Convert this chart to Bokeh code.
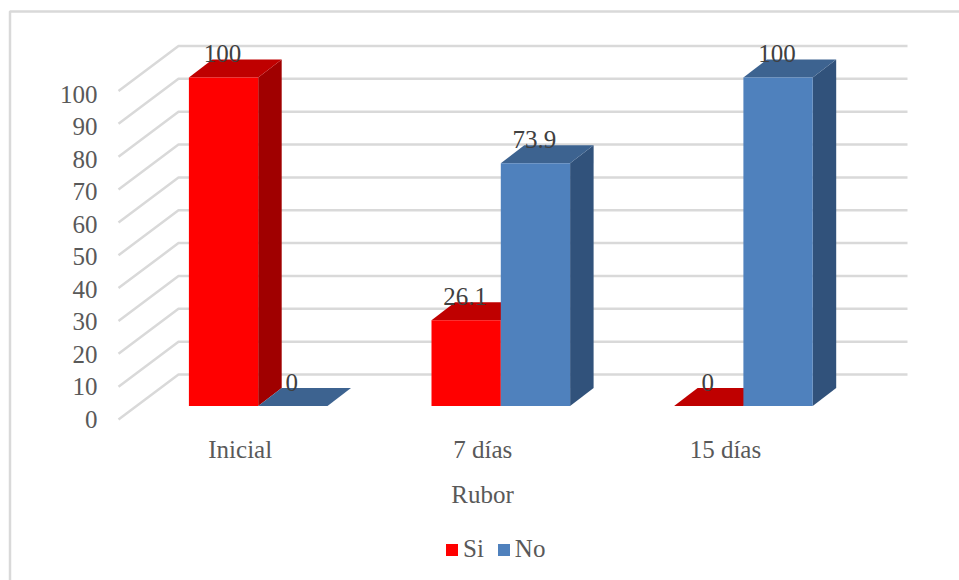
from bokeh.embed import file_html
from bokeh.resources import INLINE
from bokeh.plotting import figure
from bokeh.models import (ColumnDataSource, Range1d, LinearAxis, FixedTicker, Legend,
                          LegendItem)
from bokeh.core.properties import value

# Data
categories = ["Inicial", "7 días", "15 días"]
si_values = [100, 26.1, 0]
no_values = [0, 73.9, 100]
value_ticks = [0, 10, 20, 30, 40, 50, 60, 70, 80, 90, 100]
x_title = "Rubor"

# Colours
RED, RED_TOP, RED_SIDE = "#FF0000", "#BF0000", "#A00000"
BLUE, BLUE_TOP, BLUE_SIDE = "#4F81BD", "#3D6390", "#31527B"
GRID = "#D9D9D9"
TEXT = "#595959"
LABEL = "#404040"
FONT = "Liberation Serif"
FS = "25px"

# The plot frame fills the page; these map page pixels to data units
W, H = 959, 580
PX_PER_UNIT = 3.285       # pixels per percentage point
PX_PER_CAT = 242.6        # pixels between category centres
ZERO_ROW = 405.5          # page row of value 0 on the front of the bars
ZERO_COL = 257.7          # page column of the first category centre


def col(px):
    return (px - ZERO_COL) / PX_PER_CAT


def row(px):
    return (ZERO_ROW - px) / PX_PER_UNIT


# Oblique projection: depth shifts in data units
BAR_W = 69.3 / PX_PER_CAT
BAR_DX, BAR_DY = 23.5 / PX_PER_CAT, 18 / PX_PER_UNIT
WALL_FRONT_X, WALL_BACK_X, WALL_RIGHT_X = col(118), col(178), col(907)
WALL_FRONT_DY = -13.5 / PX_PER_UNIT
WALL_BACK_DY = 31.5 / PX_PER_UNIT

p = figure(width=W, height=H, output_backend="svg", toolbar_location=None,
           frame_width=W, frame_height=H,
           x_range=Range1d(col(0), col(W)), y_range=Range1d(row(H), row(0)),
           min_border=0, x_axis_location=None, y_axis_location=None)
p.grid.visible = False
p.outline_line_color = None
p.background_fill_color = "white"
p.border_fill_color = "white"

# Light rule along the chart's top and left edges
p.line([col(9.5), col(9.5), col(W + 5)], [row(H + 5), row(11), row(11)],
       line_color=GRID, line_width=2.5)

# Floor edges and back wall gridlines
for v in value_ticks:
    p.line([WALL_FRONT_X, WALL_BACK_X, WALL_RIGHT_X],
           [v + WALL_FRONT_DY, v + WALL_BACK_DY, v + WALL_BACK_DY],
           line_color=GRID, line_width=2.5)


def draw_bar(xc, v, front, top, side):
    """Draw one bar as three projected faces; returns the front face renderer."""
    xl, xr = xc, xc + BAR_W
    p.patch([xr, xr + BAR_DX, xr + BAR_DX, xr],
            [0, BAR_DY, v + BAR_DY, v], fill_color=side, line_color=None)
    p.patch([xl, xr, xr + BAR_DX, xl + BAR_DX],
            [v, v, v + BAR_DY, v + BAR_DY], fill_color=top, line_color=None)
    return p.patch([xl, xr, xr, xl], [0, 0, v, v], fill_color=front, line_color=None)


si_items, no_items = [], []
for i, (s, n) in enumerate(zip(si_values, no_values)):
    si_items.append(draw_bar(i - BAR_W, s, RED, RED_TOP, RED_SIDE))
    no_items.append(draw_bar(i, n, BLUE, BLUE_TOP, BLUE_SIDE))

# Value labels above each bar
label_src = ColumnDataSource(dict(
    x=[i - BAR_W / 2 for i in range(3)] + [i + BAR_W / 2 for i in range(3)],
    y=si_values + no_values,
    t=[f"{v:g}" for v in si_values + no_values],
))
p.text("x", "y", text="t", source=label_src, x_offset=-1, y_offset=-24,
       text_align="center", text_baseline="middle", text_color=LABEL,
       text_font=value(FONT), text_font_size=FS)

# Value axis, on its own scale along the front edge of the floor
FRONT_PX_PER_UNIT = 3.25
FRONT_ZERO_ROW = 418.5
p.extra_y_ranges["front"] = Range1d((FRONT_ZERO_ROW - H) / FRONT_PX_PER_UNIT,
                                    FRONT_ZERO_ROW / FRONT_PX_PER_UNIT)
y_axis = LinearAxis(y_range_name="front", ticker=FixedTicker(ticks=value_ticks),
                    fixed_location=col(109),
                    axis_line_color=None, major_tick_line_color=None,
                    minor_tick_line_color=None, major_label_standoff=6,
                    major_label_text_color=TEXT, major_label_text_font=FONT,
                    major_label_text_font_size=FS)
p.add_layout(y_axis, "left")

# Category axis and its title, set a little left of each bar pair's centre
LABEL_SHIFT = 18 / PX_PER_CAT
x_ticks = [i - LABEL_SHIFT for i in range(3)]
x_axis = LinearAxis(ticker=FixedTicker(ticks=x_ticks),
                    major_label_overrides={t: c for t, c in zip(x_ticks, categories)},
                    fixed_location=row(419),
                    bounds=(col(57), col(907)),
                    axis_line_color=None, major_tick_line_color=None,
                    minor_tick_line_color=None, major_label_standoff=10,
                    major_label_text_color=TEXT, major_label_text_font=FONT,
                    major_label_text_font_size=FS,
                    axis_label=x_title, axis_label_standoff=15,
                    axis_label_text_color=TEXT, axis_label_text_font=FONT,
                    axis_label_text_font_size=FS, axis_label_text_font_style="normal")
p.add_layout(x_axis, "below")

# Legend near the bottom of the page
legend = Legend(items=[LegendItem(label="Si", renderers=[si_items[0]]),
                       LegendItem(label="No", renderers=[no_items[0]])],
                orientation="horizontal", location=(444, 17),
                glyph_width=15, glyph_height=15, label_standoff=4, spacing=12,
                padding=0, margin=0, border_line_color=None,
                background_fill_alpha=0,
                label_text_color=TEXT, label_text_font=FONT, label_text_font_size=FS)
p.add_layout(legend)

open("out.html", "w").write(file_html(p, INLINE))
